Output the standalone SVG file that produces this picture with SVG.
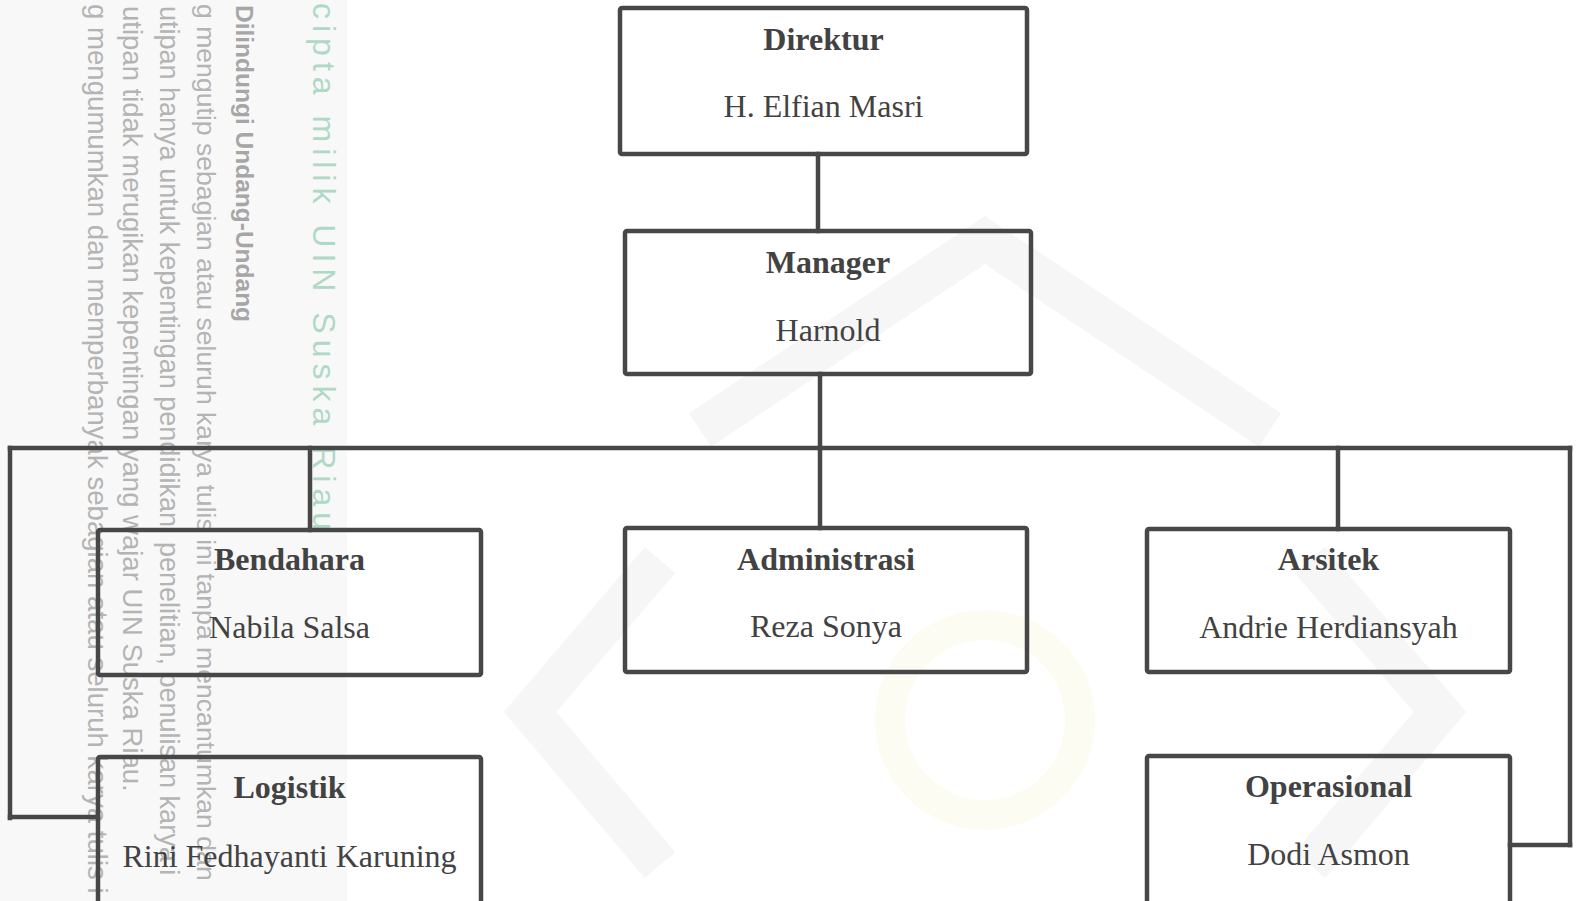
<svg xmlns="http://www.w3.org/2000/svg" width="1580" height="901" viewBox="0 0 1580 901">
<style>
.box{fill:none;stroke:#474747;stroke-width:4.5;}
.ln{stroke:#474747;stroke-width:4.5;fill:none;stroke-linecap:square;}
.t{font-family:"Liberation Serif","Times New Roman",serif;font-size:32px;fill:#424242;text-anchor:middle;}
.b{font-weight:bold;}
.wm{font-family:"Liberation Sans",Arial,sans-serif;font-size:27px;fill:#b4b4b4;}
.wmb{font-family:"Liberation Sans",Arial,sans-serif;font-size:24.5px;font-weight:bold;fill:#a6a6a6;}
.wmg{font-family:"Liberation Sans",Arial,sans-serif;font-size:32px;fill:#b0d9c5;letter-spacing:6px;}
.logo{fill:none;stroke:#f6f6f6;stroke-width:40;}
</style>
<rect x="0" y="0" width="1580" height="901" fill="#ffffff"/>
<rect x="0" y="0" width="347" height="901" fill="#f8f8f8"/>
<g id="logo-watermark">
<path class="logo" d="M660,560 L530,712 L660,865"/>
<path class="logo" d="M1310,560 L1440,712 L1310,865"/>
<path class="logo" d="M700,430 L985,240 L1270,430"/>
<circle cx="985" cy="720" r="95" fill="none" stroke="#fdfcf3" stroke-width="30"/>
</g>
<g id="watermark-text">
<text class="wmg" transform="translate(313,3) rotate(90)">cipta milik UIN Suska Riau</text>
<text class="wmb" transform="translate(236,5) rotate(90)">Dilindungi Undang-Undang</text>
<text class="wm" transform="translate(197,4) rotate(90)" style="font-size:26.6px">g mengutip sebagian atau seluruh karya tulis ini tanpa mencantumkan dan</text>
<text class="wm" transform="translate(160,6) rotate(90)">utipan hanya untuk kepentingan pendidikan, penelitian, penulisan karya i</text>
<text class="wm" transform="translate(123,6) rotate(90)" style="font-size:27.5px">utipan tidak merugikan kepentingan yang wajar UIN Suska Riau.</text>
<text class="wm" transform="translate(88,4) rotate(90)" style="font-size:27.6px">g mengumumkan dan memperbanyak sebagian atau seluruh karya tulis i</text>
</g>
<g id="connectors">
<line class="ln" x1="818" y1="154" x2="818" y2="231"/>
<line class="ln" x1="820" y1="374" x2="820" y2="448"/>
<line class="ln" x1="10" y1="448" x2="1570" y2="448"/>
<line class="ln" x1="820" y1="448" x2="820" y2="528"/>
<line class="ln" x1="310" y1="448" x2="310" y2="530"/>
<line class="ln" x1="1338" y1="448" x2="1338" y2="529"/>
<line class="ln" x1="10" y1="448" x2="10" y2="818"/>
<line class="ln" x1="10" y1="817" x2="98" y2="817"/>
<line class="ln" x1="1570" y1="448" x2="1570" y2="845"/>
<line class="ln" x1="1510" y1="845" x2="1570" y2="845"/>
</g>
<g id="direktur">
<rect class="box" x="620" y="8" width="407" height="146" rx="2"/>
<text class="t b" x="823.5" y="50">Direktur</text>
<text class="t" x="823.5" y="117">H. Elfian Masri</text>
</g>
<g id="manager">
<rect class="box" x="625" y="231" width="406" height="143" rx="2"/>
<text class="t b" x="828" y="273">Manager</text>
<text class="t" x="828" y="341">Harnold</text>
</g>
<g id="bendahara">
<rect class="box" x="98" y="530" width="383" height="145" rx="2"/>
<text class="t b" x="289.5" y="570">Bendahara</text>
<text class="t" x="289.5" y="638">Nabila Salsa</text>
</g>
<g id="administrasi">
<rect class="box" x="625" y="528" width="402" height="144" rx="2"/>
<text class="t b" x="826" y="570">Administrasi</text>
<text class="t" x="826" y="637">Reza Sonya</text>
</g>
<g id="arsitek">
<rect class="box" x="1147" y="529" width="363" height="143" rx="2"/>
<text class="t b" x="1328.5" y="570">Arsitek</text>
<text class="t" x="1328.5" y="638">Andrie Herdiansyah</text>
</g>
<g id="logistik">
<rect class="box" x="98" y="757" width="383" height="160" rx="2"/>
<text class="t b" x="289.5" y="798">Logistik</text>
<text class="t" x="289.5" y="867">Rini Fedhayanti Karuning</text>
</g>
<g id="operasional">
<rect class="box" x="1147" y="756" width="363" height="160" rx="2"/>
<text class="t b" x="1328.5" y="797">Operasional</text>
<text class="t" x="1328.5" y="865">Dodi Asmon</text>
</g>
</svg>
